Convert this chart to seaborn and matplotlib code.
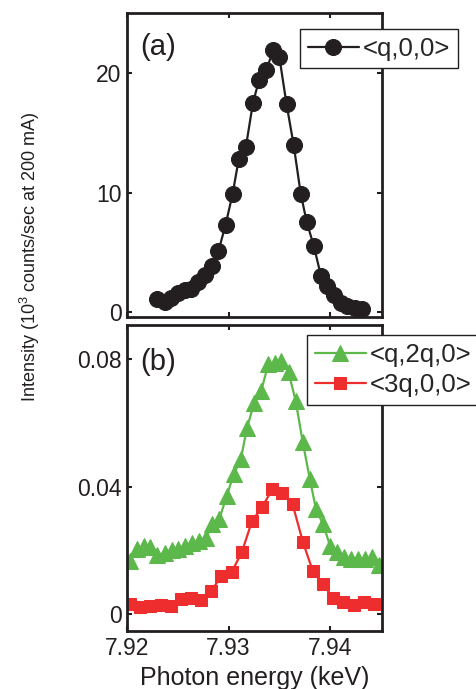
import matplotlib
matplotlib.use("Agg")
import matplotlib.pyplot as plt
import seaborn as sns
import pandas as pd

# ---------------- data ----------------
energy_a = [7.9230, 7.9237, 7.9243, 7.9250, 7.9257, 7.9263, 7.9270, 7.9277,
            7.9284, 7.9290, 7.9297, 7.9304, 7.9310, 7.9317, 7.9324, 7.9330,
            7.9337, 7.9344, 7.9350, 7.9357, 7.9364, 7.9371, 7.9377, 7.9384,
            7.9391, 7.9397, 7.9404, 7.9411, 7.9417, 7.9424, 7.9431]
q00 = [1.1, 0.85, 1.15, 1.6, 1.85, 1.95, 2.5, 3.1, 3.9, 5.1, 7.3, 9.9, 12.8,
       13.8, 17.5, 19.4, 20.2, 21.9, 21.3, 17.4, 14.0, 9.9, 7.5, 5.5, 3.0,
       2.2, 1.4, 0.8, 0.5, 0.35, 0.3]

energy_g = [7.9203, 7.9210, 7.9217, 7.9223, 7.9230, 7.9237, 7.9244, 7.9250,
            7.9257, 7.9264, 7.9271, 7.9278, 7.9284, 7.9291, 7.9298, 7.9305,
            7.9312, 7.9318, 7.9325, 7.9332, 7.9339, 7.9346, 7.9352, 7.9359,
            7.9366, 7.9373, 7.9380, 7.9386, 7.9393, 7.9400, 7.9407, 7.9414,
            7.9420, 7.9427, 7.9434, 7.9441, 7.9448]
q2q0 = [0.0168, 0.0205, 0.0215, 0.0210, 0.0185, 0.0192, 0.0200, 0.0205,
        0.0215, 0.0222, 0.0230, 0.0240, 0.0282, 0.0300, 0.0370, 0.0439,
        0.0486, 0.0583, 0.0662, 0.0700, 0.0784, 0.0788, 0.0795, 0.0760,
        0.0670, 0.0540, 0.0424, 0.0330, 0.0282, 0.0214, 0.0194, 0.0180,
        0.0174, 0.0173, 0.0173, 0.0178, 0.0153]

energy_r = [7.9203, 7.9213, 7.9223, 7.9233, 7.9243, 7.9253, 7.9263, 7.9273,
            7.9283, 7.9293, 7.9303, 7.9313, 7.9323, 7.9333, 7.9343, 7.9353,
            7.9363, 7.9373, 7.9383, 7.9393, 7.9403, 7.9413, 7.9423, 7.9433,
            7.9443]
q300 = [0.0031, 0.0021, 0.0026, 0.0029, 0.0027, 0.0046, 0.0050, 0.0043,
        0.0073, 0.0120, 0.0132, 0.0194, 0.0292, 0.0336, 0.0392, 0.0380,
        0.0345, 0.0228, 0.0134, 0.0094, 0.0050, 0.0038, 0.0030, 0.0037,
        0.0031]

xticks = [7.92, 7.93, 7.94]
xticklabels = ["7.92", "7.93", "7.94"]
yticks_a = [0, 10, 20]
yticks_b = [0, 0.04, 0.08]
yticklabels_b = ["0", "0.04", "0.08"]
labels = ["<q,0,0>", "<q,2q,0>", "<3q,0,0>"]

# ---------------- style ----------------
sns.set_style("ticks")
plt.rcParams["font.family"] = ["Liberation Sans", "DejaVu Sans"]
plt.rcParams["mathtext.fontset"] = "custom"
plt.rcParams["mathtext.rm"] = "Liberation Sans"
plt.rcParams["mathtext.it"] = "Liberation Sans"

BLACK = "#231f20"
GREEN = "#5cb84a"
RED = "#ee2e2e"

W, H = 476, 689
fig = plt.figure(figsize=(W / 100, H / 100), dpi=100)

def fx(px):
    return px / W

def fy(py):
    return 1 - py / H

ax_a = fig.add_axes([fx(127), fy(317), fx(382) - fx(127), fy(13) - fy(317)])
ax_b = fig.add_axes([fx(127), fy(631), fx(382) - fx(127), fy(325) - fy(631)])

df_a = pd.DataFrame({"E": energy_a, "I": q00})
df_g = pd.DataFrame({"E": energy_g, "I": q2q0})
df_r = pd.DataFrame({"E": energy_r, "I": q300})

sns.lineplot(data=df_a, x="E", y="I", ax=ax_a, color=BLACK, marker="o",
             markersize=11.5, markeredgecolor=BLACK, linewidth=1.6,
             estimator=None, sort=False, label=labels[0])
sns.lineplot(data=df_g, x="E", y="I", ax=ax_b, color=GREEN, marker="^",
             markersize=12, markeredgecolor=GREEN, linewidth=1.6,
             estimator=None, sort=False, label=labels[1])
sns.lineplot(data=df_r, x="E", y="I", ax=ax_b, color=RED, marker="s",
             markersize=9, markeredgecolor=RED, linewidth=1.6,
             estimator=None, sort=False, label=labels[2])

for ax in (ax_a, ax_b):
    ax.set_xlim(7.92, 7.9451)
    ax.set_xticks(xticks)
    ax.set_xlabel("")
    ax.set_ylabel("")
    for s in ax.spines.values():
        s.set_visible(True)
        s.set_linewidth(2.0)
        s.set_color(BLACK)
    ax.tick_params(direction="in", length=3.5, width=1.5, top=True,
                   right=True, labelsize=16.5, pad=4, colors=BLACK)

ax_a.set_ylim(-0.4, 25.0)
ax_a.set_yticks(yticks_a)
ax_a.set_yticklabels([str(v) for v in yticks_a])
ax_a.set_xticklabels([])

ax_b.set_ylim(-0.0053, 0.0908)
ax_b.set_yticks(yticks_b)
ax_b.set_yticklabels(yticklabels_b)
ax_b.set_xticklabels(xticklabels)
ax_b.set_xlabel("Photon energy (keV)", fontsize=18, labelpad=5, color=BLACK)

ax_a.text(0.05, 0.888, "(a)", transform=ax_a.transAxes, fontsize=21,
          va="center", ha="left", color=BLACK)
ax_b.text(0.05, 0.88, "(b)", transform=ax_b.transAxes, fontsize=21,
          va="center", ha="left", color=BLACK)

leg_kw = dict(loc="upper left", frameon=True, fancybox=False, framealpha=1,
              edgecolor=BLACK, fontsize=18.5, handlelength=2.0,
              handletextpad=0.15, borderpad=0.3, borderaxespad=0,
              bbox_transform=fig.transFigure)
la = ax_a.legend(bbox_to_anchor=(fx(300), fy(29)), **leg_kw)
lb = ax_b.legend(bbox_to_anchor=(fx(307), fy(335)), labelspacing=0.25, **leg_kw)
for lg in (la, lb):
    lg.get_frame().set_linewidth(1.0)
    lg.set_zorder(10)

fig.text(fx(30), fy(257), "Intensity (10$^3$ counts/sec at 200 mA)",
         rotation=90, ha="center", va="center", fontsize=13, color=BLACK)

fig.savefig("out.png", dpi=100)
